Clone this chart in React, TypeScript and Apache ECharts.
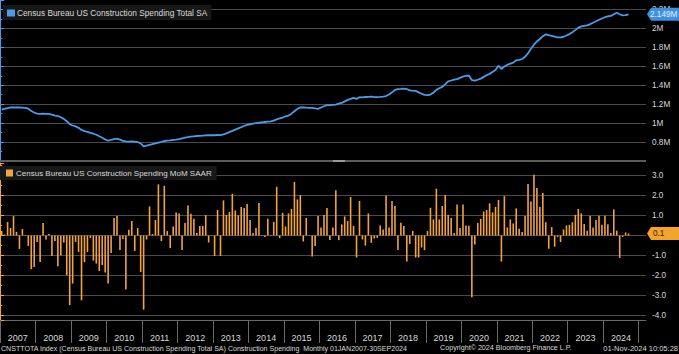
import React, { useEffect, useRef } from "react";
import * as echarts from "echarts";

// ---------- data ----------
const yearLabels = [
  "2007", "2008", "2009", "2010", "2011", "2012", "2013", "2014", "2015",
  "2016", "2017", "2018", "2019", "2020", "2021", "2022", "2023", "2024",
];

// Census Bureau US Construction Spending Total SA (millions, monthly Jan 2007 - Sep 2024)
const totalSA_2007_2012 = [
  1.142, 1.150, 1.158, 1.165, 1.166, 1.165, 1.166, 1.164, 1.161, 1.152, 1.128, 1.112,
  1.100, 1.098, 1.100, 1.098, 1.097, 1.090, 1.080, 1.075, 1.062, 1.045, 1.020, 0.990,
  0.975, 0.965, 0.950, 0.928, 0.915, 0.908, 0.898, 0.888, 0.877, 0.862, 0.846, 0.828,
  0.814, 0.822, 0.832, 0.836, 0.826, 0.812, 0.807, 0.805, 0.806, 0.804, 0.800, 0.785,
  0.754, 0.762, 0.770, 0.778, 0.786, 0.794, 0.802, 0.811, 0.815, 0.818, 0.822, 0.826,
  0.832, 0.839, 0.846, 0.852, 0.858, 0.861, 0.864, 0.866, 0.868, 0.870, 0.872, 0.873,
];
const totalSA_2013_2018 = [
  0.872, 0.875, 0.874, 0.880, 0.892, 0.905, 0.918, 0.932, 0.945, 0.957, 0.970, 0.982,
  0.988, 0.995, 1.000, 1.004, 1.008, 1.012, 1.015, 1.018, 1.026, 1.040, 1.049, 1.058,
  1.072, 1.080, 1.100, 1.125, 1.150, 1.165, 1.166, 1.163, 1.162, 1.161, 1.156, 1.151,
  1.165, 1.178, 1.189, 1.190, 1.193, 1.196, 1.205, 1.213, 1.230, 1.245, 1.256, 1.267,
  1.256, 1.274, 1.272, 1.276, 1.277, 1.280, 1.276, 1.275, 1.277, 1.280, 1.286, 1.302,
  1.325, 1.350, 1.360, 1.362, 1.365, 1.360, 1.346, 1.342, 1.340, 1.325, 1.310, 1.298,
];
const totalSA_2019_2024 = [
  1.296, 1.302, 1.322, 1.351, 1.368, 1.382, 1.412, 1.440, 1.450, 1.458, 1.465, 1.478,
  1.490, 1.500, 1.502, 1.455, 1.449, 1.458, 1.470, 1.488, 1.505, 1.520, 1.540, 1.560,
  1.607, 1.572, 1.598, 1.616, 1.628, 1.639, 1.663, 1.668, 1.677, 1.700, 1.738, 1.785,
  1.828, 1.862, 1.888, 1.918, 1.937, 1.930, 1.920, 1.912, 1.905, 1.906, 1.912, 1.925,
  1.940, 1.960, 1.982, 2.008, 2.021, 2.028, 2.032, 2.045, 2.060, 2.075, 2.091, 2.105,
  2.118, 2.126, 2.132, 2.150, 2.165, 2.150, 2.137, 2.140, 2.149,
];

// Census Bureau US Construction Spending MoM SAAR (%)
const momSAAR_2007_2012 = [
  0.22, 0.05, 0.67, 0.37, 0.97, 0.18, -0.67, 0.32, -0.03, -0.52, -1.68, -1.57,
  -0.33, -1.32, 0.62, -0.2, 0.07, -1.02, -0.28, -1.53, -0.98, -0.35, -1.98, -3.47,
  -2.4, -0.32, -0.82, -3.23, -1.33, -0.82, -0.12, -1.25, -1.4, -1.77, -1.48, -1.85,
  -2.4, -0.87, 0.87, 0.97, -0.73, -0.17, -2.7, 0.28, 0.72, -0.77, 0.37, -1.82,
  -3.7, -0.2, 1.45, 0.07, 0.77, 2.55, -0.28, 2.48, 0.22, -0.63, 0.45, 1.15,
  1.1, -0.73, 0.62, 1.5, 1.08, 0.83, 0.12, 0.47, 0.47, 1.02, -0.35, 0.02,
];
const momSAAR_2013_2018 = [
  -1.02, 1.27, -1.02, 1.75, 1.02, 1.17, 2.08, 1.25, 1.0, 1.42, 1.37, 1.57,
  0.77, 0.12, 0.37, 1.62, 0.02, -0.07, 0.83, 0.02, 0.68, 2.43, -0.13, 1.13,
  0.45, 1.1, 1.32, 2.67, 1.8, 2.02, -0.3, 0.87, 0.02, -1.05, -0.53, 0.97,
  0.4, 1.02, 1.37, -0.22, 0.4, 2.25, -0.23, 0.55, 0.95, 0.72, 1.92, 0.47,
  -1.1, 1.72, -0.2, -0.5, 1.1, -0.37, -0.15, -0.12, 0.5, 0.3, 2.0, 0.4,
  1.72, 1.47, -0.72, 0.63, 0.47, -1.3, -0.42, 0.23, -1.1, -1.1, -0.6, -0.73,
];
const momSAAR_2019_2024 = [
  0.22, 1.38, 0.8, 2.33, 0.8, 1.47, 2.02, 1.02, 0.87, 0.13, 1.55, 0.37,
  1.55, 0.5, 0.48, -3.08, -0.45, 0.62, 0.83, 1.2, 1.27, 1.6, 1.15, 1.42,
  1.77, -1.3, 1.96, 0.4, 0.8, 0.6, 1.35, 0.33, 0.18, 0.97, 2.57, 1.7,
  3.03, 2.37, 1.42, 2.12, 0.66, -0.66, 0.42, -0.56, -0.07, -0.33, 0.3, 0.5,
  0.53, 0.66, 1.03, 1.32, 1.1, 0.57, 0.23, 0.99, 0.4, 0.77, 0.98, 0.53,
  0.98, 0.56, 0.12, 1.3, 0.24, -1.12, -0.07, 0.15, 0.1,
];

const topSeriesName = "Census Bureau US Construction Spending Total SA";
const bottomSeriesName = "Census Bureau US Construction Spending MoM SAAR";
const footerLeft =
  "CNSTTOTA Index (Census Bureau US Construction Spending Total SA) Construction Spending  Monthly 01JAN2007-30SEP2024";
const footerMid = "Copyright\u00A9 2024 Bloomberg Finance L.P.";
const footerRight = "01-Nov-2024 10:05:28";

// ---------- styling ----------
const FONT = "'Liberation Sans', Arial, sans-serif";
const BLUE = "#4b9be8";
const ORANGE = "#f0a33e";
const GRID = "#4a4a4a";
const TEXT = "#d9d9d9";

function textWidth(text: string, size: number) {
  const t = new echarts.graphic.Text({ style: { text, fontSize: size, fontFamily: FONT } });
  return t.getBoundingRect().width;
}
function fitSize(text: string, target: number) {
  const w = textWidth(text, 20);
  return w > 0 ? (20 * target) / w : 8;
}

export default function App() {
  const ref = useRef<HTMLDivElement | null>(null);

  useEffect(() => {
    document.body.style.margin = "0";
    document.body.style.background = "#000";
    if (!ref.current) return;
    const chart = echarts.init(ref.current, null, { renderer: "svg" });

    const total = [...totalSA_2007_2012, ...totalSA_2013_2018, ...totalSA_2019_2024];
    const mom = [...momSAAR_2007_2012, ...momSAAR_2013_2018, ...momSAAR_2019_2024];

    const plotW = 646;
    const pxPerMonth = 2.957;
    const xMin = -0.07;
    const xMax = xMin + plotW / pxPerMonth;

    const lineData = total.map((v, i) => [i + 0.5, v]);
    const barData = mom.map((v, i) => [i + 0.5, v]);

    const fmtM = (v: number) => `${Number(v.toFixed(1))}M`;

    const legTopSize = fitSize(topSeriesName, 191);
    const legBotSize = fitSize(bottomSeriesName, 196);
    const footLeftSize = fitSize(footerLeft, 407);
    const footMidSize = fitSize(footerMid, 132);
    const footRightSize = fitSize(footerRight, 75);
    const AX = 8.2;

    chart.setOption({
      animation: false,
      backgroundColor: "#000",
      textStyle: { fontFamily: FONT },
      legend: [
        {
          data: [{ name: topSeriesName, icon: "rect" }],
          left: 3,
          top: 5,
          backgroundColor: "#181818",
          padding: [4, 4, 3, 4],
          itemWidth: 8,
          itemHeight: 7,
          selectedMode: false,
          textStyle: { color: TEXT, fontSize: legTopSize, fontFamily: FONT, padding: [0, 0, 0, -3] },
        },
        {
          data: [{ name: bottomSeriesName, icon: "rect" }],
          left: 0,
          top: 166,
          backgroundColor: "#181818",
          padding: [3, 5, 3, 6],
          itemWidth: 7,
          itemHeight: 7,
          selectedMode: false,
          textStyle: { color: TEXT, fontSize: legBotSize, fontFamily: FONT, padding: [0, 0, 0, -2] },
        },
      ],
      grid: [
        { left: 0, top: 0, width: plotW, height: 161 },
        { left: 0, top: 163, width: plotW, height: 157 },
        { left: 0, top: 319, width: 216 * pxPerMonth, height: 1 },
      ],
      xAxis: [
        { type: "value", gridIndex: 0, min: xMin, max: xMax, show: false },
        {
          type: "value",
          gridIndex: 1,
          min: xMin,
          max: xMax,
          axisLine: { show: true, onZero: false, lineStyle: { color: "#6a6a6a", width: 1 } },
          axisTick: { show: false },
          axisLabel: { show: false },
          splitLine: { show: false },
        },
        {
          type: "category",
          gridIndex: 2,
          data: yearLabels,
          boundaryGap: true,
          position: "bottom",
          axisLine: { show: false },
          axisTick: { show: true, interval: 0, length: 23, lineStyle: { color: "#6a6a6a" } },
          axisLabel: { color: TEXT, fontSize: 9, fontFamily: FONT, margin: 13, interval: 0 },
          splitLine: { show: false },
        },
      ],
      yAxis: [
        {
          type: "value",
          gridIndex: 0,
          position: "right",
          min: 0.6,
          max: 2.3,
          splitNumber: 8,
          axisLine: { show: true, lineStyle: { color: BLUE, width: 1 } },
          axisTick: { show: true, length: 4, lineStyle: { color: BLUE } },
          minorTick: { show: true, splitNumber: 2, length: 2, lineStyle: { color: BLUE } },
          axisLabel: {
            color: TEXT,
            fontSize: AX,
            fontFamily: FONT,
            margin: 6,
            showMinLabel: false,
            showMaxLabel: false,
            formatter: (v: number) => fmtM(v),
          },
          splitLine: { show: true, showMinLine: false, showMaxLine: false, lineStyle: { color: GRID, width: 1 } },
        },
        {
          type: "value",
          gridIndex: 1,
          position: "right",
          min: -4.215,
          max: 3.615,
          splitNumber: 8,
          axisLine: { show: true, lineStyle: { color: ORANGE, width: 1 } },
          axisTick: { show: true, length: 4, lineStyle: { color: ORANGE } },
          minorTick: { show: true, splitNumber: 2, length: 2, lineStyle: { color: ORANGE } },
          axisLabel: {
            color: TEXT,
            fontSize: AX,
            fontFamily: FONT,
            margin: 6,
            showMinLabel: false,
            showMaxLabel: false,
            formatter: (v: number) => (Math.abs(v) < 1e-9 ? "" : v.toFixed(1)),
          },
          splitLine: { show: true, showMinLine: false, showMaxLine: false, lineStyle: { color: GRID, width: 1 } },
        },
        { type: "value", gridIndex: 2, show: false },
      ],
      series: [
        {
          name: topSeriesName,
          type: "line",
          xAxisIndex: 0,
          yAxisIndex: 0,
          data: lineData,
          showSymbol: false,
          color: BLUE,
          lineStyle: { color: BLUE, width: 1.8 },
          z: 5,
        },
        {
          name: bottomSeriesName,
          type: "bar",
          xAxisIndex: 1,
          yAxisIndex: 1,
          data: barData,
          barWidth: 1.6,
          color: ORANGE,
          itemStyle: { color: ORANGE },
          z: 5,
        },
      ],
    });

    const lastTotal = total[total.length - 1];
    const lastMom = mom[mom.length - 1];
    const yT = chart.convertToPixel({ yAxisIndex: 0 }, lastTotal) as number;
    const yM = chart.convertToPixel({ yAxisIndex: 1 }, lastMom) as number;
    const tag = (y: number, fill: string) => ({
      type: "polygon",
      shape: {
        points: [
          [plotW + 1, y],
          [plotW + 5, y - 6.5],
          [679, y - 6.5],
          [679, y + 6.5],
          [plotW + 5, y + 6.5],
        ],
      },
      style: { fill },
      z: 100,
    });

    chart.setOption({
      graphic: [
        // panel divider
        { type: "rect", shape: { x: 0, y: 160, width: plotW, height: 2 }, style: { fill: "#5c5c5c" }, z: 50 },
        { type: "rect", shape: { x: 333, y: 160, width: 12, height: 2 }, style: { fill: "#9a9a9a" }, z: 51 },
        tag(yT, "#3f8fe0"),
        {
          type: "text",
          x: plotW + 4,
          y: yT,
          style: {
            text: `${lastTotal.toFixed(3)}M`,
            fill: "#e2efff",
            fontSize: 8.2,
            fontFamily: FONT,
            verticalAlign: "middle",
            align: "left",
          },
          z: 101,
        },
        tag(yM, "#f5a42a"),
        {
          type: "text",
          x: plotW + 7,
          y: yM,
          style: {
            text: lastMom.toFixed(1),
            fill: "#3a2200",
            fontSize: 8.2,
            fontFamily: FONT,
            verticalAlign: "middle",
            align: "left",
          },
          z: 101,
        },
        // footer
        {
          type: "text",
          x: 1,
          y: 348,
          style: { text: footerLeft, fill: TEXT, fontSize: footLeftSize, fontFamily: FONT, verticalAlign: "middle" },
        },
        {
          type: "text",
          x: 440,
          y: 348,
          style: { text: footerMid, fill: TEXT, fontSize: footMidSize, fontFamily: FONT, verticalAlign: "middle" },
        },
        {
          type: "text",
          x: 678,
          y: 348,
          style: {
            text: footerRight,
            fill: TEXT,
            fontSize: footRightSize,
            fontFamily: FONT,
            verticalAlign: "middle",
            align: "right",
          },
        },
      ],
    });

    return () => chart.dispose();
  }, []);

  return (
    <div
      ref={ref}
      style={{ position: "fixed", left: 0, top: 0, width: 679, height: 354, background: "#000" }}
    />
  );
}
